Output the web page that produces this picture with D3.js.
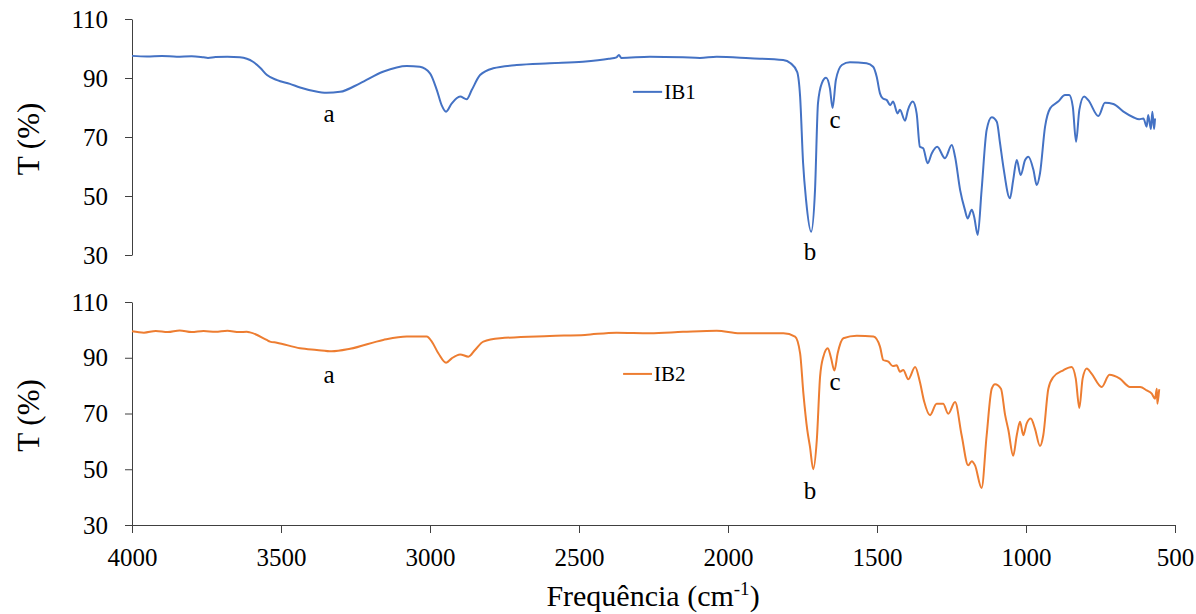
<!DOCTYPE html>
<html>
<head>
<meta charset="utf-8">
<script src="https://cdn.jsdelivr.net/npm/d3@7"></script>
<style>
  body { margin: 0; background: #fff; }
  svg text { font-family: "Liberation Serif", "Times New Roman", serif; }
</style>
</head>
<body>
<script>
// FTIR spectra, values: [wavenumber cm-1, T %]
var xTicks = [4000, 3500, 3000, 2500, 2000, 1500, 1000, 500];
var yTicks = [30, 50, 70, 90, 110];

var ib1 = [
  [4000,97.5],[3950,97.3],[3900,97.5],[3850,97.2],[3800,97.4],[3760,97.0],[3745,96.8],[3720,97.1],
  [3680,97.2],[3638,97.0],[3594,95.5],[3570,93.5],[3547,91.0],[3513,89.3],[3470,88.0],[3436,86.8],
  [3390,85.6],[3347,85.0],[3302,85.3],[3235,88.2],[3158,92.1],[3078,94.1],[3034,93.8],[3000,91.6],
  [2977,85.9],[2961,80.8],[2946,78.6],[2927,81.4],[2899,83.7],[2877,82.8],[2860,85.9],[2832,91.0],
  [2788,93.3],[2709,94.4],[2598,95.0],[2487,95.5],[2400,96.5],[2374,97.0],[2366,97.8],[2358,96.8],
  [2262,97.2],[2151,97.0],[2094,96.8],[2038,97.2],[1926,96.7],[1815,96.1],[1790,95.0],[1768,92.1],
  [1758,83.7],[1748,61.2],[1738,48.6],[1721,37.9],[1708,52.0],[1698,81.5],[1685,88.3],[1671,90.1],
  [1658,86.5],[1649,79.8],[1638,89.3],[1618,94.4],[1591,95.3],[1535,95.0],[1513,93.8],[1501,90.4],
  [1490,84.8],[1481,83.1],[1467,82.5],[1456,80.8],[1446,82.0],[1431,78.0],[1423,79.2],[1406,75.5],
  [1396,79.2],[1380,82.0],[1367,78.0],[1356,66.7],[1345,66.2],[1330,61.1],[1316,64.5],[1298,66.7],
  [1272,62.8],[1249,67.3],[1238,63.3],[1221,52.0],[1205,45.3],[1196,42.4],[1182,45.3],[1174,43.0],
  [1162,36.8],[1149,52.0],[1132,72.4],[1115,76.7],[1098,75.2],[1087,67.8],[1076,59.9],[1054,49.2],
  [1043,55.4],[1031,62.2],[1018,57.1],[1003,62.2],[992,63.3],[975,58.8],[964,53.7],[953,57.7],
  [936,73.5],[919,79.7],[892,82.0],[869,84.2],[855,84.2],[843,80.3],[832,68.4],[821,79.2],
  [805,83.7],[791,82.5],[757,77.1],[735,81.6],[707,81.2],[673,78.6],[640,76.7],[620,76.0],
  [606,76.3],[595,73.5],[590,77.5],[581,72.7],[576,78.6],[570,72.7],[567,76.3]
];

var ib2 = [
  [4000,99.5],[3960,99.0],[3920,99.6],[3880,99.2],[3840,99.8],[3800,99.2],[3760,99.6],[3720,99.3],
  [3680,99.7],[3640,99.2],[3615,99.3],[3604,99.1],[3548,96.4],[3537,95.8],[3514,95.4],[3436,93.4],
  [3380,92.8],[3330,92.3],[3268,93.2],[3157,96.4],[3078,97.6],[3011,97.6],[2994,95.8],[2972,91.6],
  [2946,88.2],[2927,89.8],[2899,91.2],[2871,90.4],[2849,92.8],[2821,95.8],[2765,97.0],[2598,97.8],
  [2480,98.2],[2374,99.0],[2262,98.8],[2151,99.3],[2038,99.7],[1960,98.8],[1926,98.8],[1814,98.8],
  [1775,97.6],[1758,91.6],[1747,77.2],[1734,64.1],[1725,58.1],[1714,50.0],[1702,60.5],[1691,83.2],
  [1680,90.4],[1665,93.4],[1654,89.8],[1643,85.4],[1632,91.6],[1613,97.0],[1568,97.9],[1512,97.6],
  [1490,94.0],[1479,89.2],[1462,88.6],[1447,87.0],[1434,87.3],[1423,85.0],[1412,85.6],[1395,82.3],
  [1372,86.7],[1356,81.3],[1342,74.4],[1322,69.4],[1300,73.5],[1278,73.5],[1261,69.9],[1238,74.1],
  [1216,62.2],[1194,51.4],[1182,52.9],[1171,51.4],[1149,43.3],[1132,62.2],[1115,78.9],[1104,80.5],
  [1084,78.9],[1070,69.4],[1059,64.0],[1043,54.8],[1031,62.2],[1020,67.0],[1009,62.2],[998,66.4],
  [984,68.2],[970,64.6],[953,58.3],[942,62.2],[925,78.9],[908,83.1],[875,85.5],[847,86.7],
  [833,82.5],[821,72.0],[810,82.5],[796,86.1],[780,84.3],[746,79.5],[720,83.9],[685,82.5],
  [651,79.5],[617,79.5],[595,78.3],[578,77.1],[567,75.3],[561,78.9],[559,73.5],[553,78.7]
];

// peak letters: [letter, wavenumber, T at text baseline]
var notes1 = [["a", 3339, 75.2], ["b", 1725, 28.3], ["c", 1641, 72.9]];
var notes2 = [["a", 3339, 80.8], ["b", 1725, 39.2], ["c", 1641, 78.4]];

var panels = [
  {name: "IB1", data: ib1, notes: notes1, color: "#4472C4", top: 19, bottom: 255, leg: [2319, 2221, 85.3], xAxis: false},
  {name: "IB2", data: ib2, notes: notes2, color: "#ED7D31", top: 302, bottom: 525, leg: [2352, 2255, 84.2], xAxis: true}
];

var W = 1196, H = 614;
var serif = '"Liberation Serif", "Times New Roman", serif';
var svg = d3.select("body").append("svg")
  .attr("width", W)
  .attr("height", H);

var x = d3.scaleLinear().domain([4000, 500]).range([132, 1175]);
var axisColor = "#404040";

panels.forEach(function (p) {
  var y = d3.scaleLinear().domain([30, 110]).range([p.bottom, p.top]);

  var ya = svg.append("g")
    .attr("transform", "translate(" + x(4000) + ",0)")
    .call(d3.axisLeft(y).tickValues(yTicks).tickSize(7).tickSizeOuter(0).tickPadding(17))
    .attr("font-family", serif)
    .attr("font-size", 25);
  ya.select(".domain").attr("stroke", axisColor);
  ya.selectAll(".tick line").attr("stroke", axisColor);
  ya.selectAll(".tick text").attr("fill", "#000");

  if (p.xAxis) {
    var xa = svg.append("g")
      .attr("transform", "translate(0," + p.bottom + ")")
      .call(d3.axisBottom(x).tickValues(xTicks).tickFormat(d3.format("d")).tickSize(8).tickSizeOuter(0).tickPadding(15))
      .attr("font-family", serif)
      .attr("font-size", 25);
    xa.select(".domain").attr("stroke", axisColor);
    xa.selectAll(".tick line").attr("stroke", axisColor);
    xa.selectAll(".tick text").attr("fill", "#000");
  }

  // y title
  svg.append("text")
    .attr("transform", "translate(39," + ((p.top + p.bottom) / 2 + 2) + ") rotate(-90)")
    .attr("text-anchor", "middle")
    .attr("font-size", 31)
    .text("T (%)");

  var line = d3.line()
    .x(function (d) { return x(d[0]); })
    .y(function (d) { return y(d[1]); })
    .curve(d3.curveMonotoneX);

  svg.append("path")
    .datum(p.data)
    .attr("d", line)
    .attr("fill", "none")
    .attr("stroke", p.color)
    .attr("stroke-width", 2)
    .attr("stroke-linejoin", "round");

  svg.selectAll(null)
    .data(p.notes)
    .enter().append("text")
    .attr("x", function (d) { return x(d[1]); })
    .attr("y", function (d) { return y(d[2]); })
    .attr("text-anchor", "middle")
    .attr("font-size", 25)
    .text(function (d) { return d[0]; });

  // legend
  svg.append("line")
    .attr("x1", x(p.leg[0])).attr("x2", x(p.leg[1]))
    .attr("y1", y(p.leg[2])).attr("y2", y(p.leg[2]))
    .attr("stroke", p.color)
    .attr("stroke-width", 2);
  svg.append("text")
    .attr("x", x(p.leg[1]) + 2)
    .attr("y", y(p.leg[2]) + 7)
    .attr("font-size", 21)
    .text(p.name);
});

var title = svg.append("text")
  .attr("x", 653)
  .attr("y", 606)
  .attr("text-anchor", "middle")
  .attr("font-size", 30);
title.append("tspan").text("Frequência (cm");
title.append("tspan").attr("font-size", 19).attr("dy", -11).text("-1");
title.append("tspan").attr("dy", 11).text(")");
</script>
</body>
</html>
